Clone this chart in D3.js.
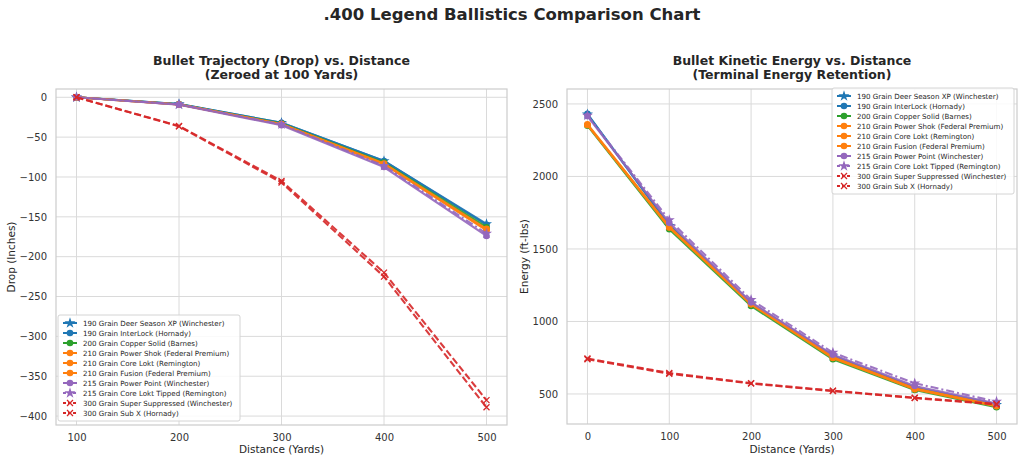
<!DOCTYPE html>
<html>
<head>
<meta charset="utf-8">
<script src="https://cdn.jsdelivr.net/npm/d3@7"></script>
<style>
  body { margin: 0; background: #fff; }
  svg { display: block; font-family: "DejaVu Sans", sans-serif; }
</style>
</head>
<body>
<div id="chart"></div>
<script>
// load names, in legend order
var loadNames = [
  "190 Grain Deer Season XP (Winchester)",
  "190 Grain InterLock (Hornady)",
  "200 Grain Copper Solid (Barnes)",
  "210 Grain Power Shok (Federal Premium)",
  "210 Grain Core Lokt (Remington)",
  "210 Grain Fusion (Federal Premium)",
  "215 Grain Power Point (Winchester)",
  "215 Grain Core Lokt Tipped (Remington)",
  "300 Grain Super Suppressed (Winchester)",
  "300 Grain Sub X (Hornady)"
];

// distances
var dropDistances = [100, 200, 300, 400, 500];
var energyDistances = [0, 100, 200, 300, 400, 500];

// drop (inches), zeroed at 100 yards
var drop190DeerSeason = [0, -8.5, -32, -80, -159];
var drop190InterLock = [0, -8.5, -32, -80, -160];
var drop200CopperSolid = [0, -8.8, -33, -82, -163];
var drop210PowerShok = [0, -9, -34, -84, -167];
var drop210CoreLokt = [0, -9, -34, -84, -166];
var drop210Fusion = [0, -9, -33.5, -83, -165];
var drop215PowerPoint = [0, -9.2, -35, -87.5, -174];
var drop215CoreLoktTipped = [0, -9, -34, -86, -171];
var drop300SuperSuppressed = [0, -36, -105, -220, -380];
var drop300SubX = [0, -36.5, -107, -225, -389];

// energy (ft-lbs)
var energy190DeerSeason = [2428, 1660, 1125, 760, 540, 425];
var energy190InterLock = [2432, 1665, 1130, 765, 545, 430];
var energy200CopperSolid = [2350, 1636, 1107, 739, 528, 408];
var energy210PowerShok = [2355, 1650, 1120, 750, 535, 418];
var energy210CoreLokt = [2355, 1648, 1118, 748, 533, 416];
var energy210Fusion = [2360, 1655, 1125, 755, 540, 422];
var energy215PowerPoint = [2416, 1680, 1132, 770, 555, 435];
var energy215CoreLoktTipped = [2420, 1700, 1150, 785, 574, 447];
var energy300SuperSuppressed = [745, 645, 575, 523, 474, 431];
var energy300SubX = [740, 640, 572, 520, 472, 428];

// tick labels
var dropTicks = [0, -50, -100, -150, -200, -250, -300, -350, -400];
var energyTicks = [500, 1000, 1500, 2000, 2500];

var dropSeries = [drop190DeerSeason, drop190InterLock, drop200CopperSolid, drop210PowerShok,
  drop210CoreLokt, drop210Fusion, drop215PowerPoint, drop215CoreLoktTipped,
  drop300SuperSuppressed, drop300SubX];
var energySeries = [energy190DeerSeason, energy190InterLock, energy200CopperSolid, energy210PowerShok,
  energy210CoreLokt, energy210Fusion, energy215PowerPoint, energy215CoreLoktTipped,
  energy300SuperSuppressed, energy300SubX];

// styles per load
var colors = ["#1f77b4", "#1f77b4", "#2ca02c", "#ff7f0e", "#ff7f0e", "#ff7f0e", "#9467bd", "#9467bd", "#d62728", "#d62728"];
var dashes = [null, null, null, null, null, null, null, "8,3,2,3", "7,3", "7,3"];
var markers = ["star", "circle", "circle", "circle", "circle", "circle", "circle", "star", "x", "x"];

var width = 1024, height = 462;

var svg = d3.select("#chart").append("svg")
  .attr("width", width)
  .attr("height", height);

svg.append("text")
  .attr("x", 512).attr("y", 20)
  .attr("text-anchor", "middle")
  .attr("font-size", "16.5px")
  .attr("font-weight", "bold")
  .attr("fill", "#262626")
  .text(".400 Legend Ballistics Comparison Chart");

function drawMarker(g, type, color, cx, cy) {
  if (type == "circle") {
    g.append("circle").attr("cx", cx).attr("cy", cy).attr("r", 3.3).attr("fill", color);
  } else if (type == "star") {
    g.append("path")
      .attr("d", d3.symbol().type(d3.symbolStar).size(38)())
      .attr("transform", "translate(" + cx + "," + cy + ")")
      .attr("fill", color);
  } else {
    g.append("path")
      .attr("d", "M-3,-3L3,3M-3,3L3,-3")
      .attr("transform", "translate(" + cx + "," + cy + ")")
      .attr("stroke", color).attr("stroke-width", 1.3).attr("fill", "none");
  }
}

function drawPanel(p) {
  var g = svg.append("g");

  var x = d3.scaleLinear().domain(p.xDomain).range([p.left, p.right]);
  var y = d3.scaleLinear().domain(p.yDomain).range([p.bottom, p.top]);

  // grid
  g.selectAll(".vgrid").data(p.xs).enter().append("line")
    .attr("x1", function(d) { return x(d); }).attr("x2", function(d) { return x(d); })
    .attr("y1", p.top).attr("y2", p.bottom)
    .attr("stroke", "#dadada").attr("stroke-width", 1);
  g.selectAll(".hgrid").data(p.yTicks).enter().append("line")
    .attr("x1", p.left).attr("x2", p.right)
    .attr("y1", function(d) { return y(d); }).attr("y2", function(d) { return y(d); })
    .attr("stroke", "#dadada").attr("stroke-width", 1);

  // frame
  g.append("rect")
    .attr("x", p.left).attr("y", p.top)
    .attr("width", p.right - p.left).attr("height", p.bottom - p.top)
    .attr("fill", "none").attr("stroke", "#cccccc").attr("stroke-width", 1.2);

  // axes (labels only, no tick marks)
  var xAxis = g.append("g").attr("transform", "translate(0," + p.bottom + ")")
    .call(d3.axisBottom(x).tickValues(p.xs).tickSize(0).tickPadding(9).tickFormat(d3.format("d")));
  var yAxis = g.append("g").attr("transform", "translate(" + p.left + ",0)")
    .call(d3.axisLeft(y).tickValues(p.yTicks).tickSize(0).tickPadding(9)
      .tickFormat(function(d) { return d < 0 ? "\u2212" + Math.abs(d) : d; }));
  [xAxis, yAxis].forEach(function(a) {
    a.select(".domain").remove();
    a.selectAll("text").attr("font-size", "10px").attr("fill", "#333333").attr("font-family", "DejaVu Sans, sans-serif");
  });

  // lines
  var line = d3.line()
    .x(function(d) { return x(d[0]); })
    .y(function(d) { return y(d[1]); });

  p.series.forEach(function(vals, i) {
    var pts = vals.map(function(v, j) { return [p.xs[j], v]; });
    g.append("path")
      .datum(pts)
      .attr("d", line)
      .attr("fill", "none")
      .attr("stroke", colors[i])
      .attr("stroke-width", 2.1)
      .attr("stroke-dasharray", dashes[i])
      .attr("opacity", 0.9);
    pts.forEach(function(pt) {
      drawMarker(g, markers[i], colors[i], x(pt[0]), y(pt[1]));
    });
  });

  // titles
  var cx = (p.left + p.right) / 2;
  p.title.forEach(function(t, i) {
    svg.append("text")
      .attr("x", cx).attr("y", 65 + i * 14)
      .attr("text-anchor", "middle")
      .attr("font-size", "12.5px").attr("font-weight", "bold")
      .attr("fill", "#262626")
      .text(t);
  });
  svg.append("text")
    .attr("x", cx).attr("y", 453)
    .attr("text-anchor", "middle")
    .attr("font-size", "10.5px").attr("fill", "#262626")
    .text(p.xLabel);
  svg.append("text")
    .attr("transform", "translate(" + p.yLabelX + "," + ((p.top + p.bottom) / 2) + ") rotate(-90)")
    .attr("text-anchor", "middle")
    .attr("font-size", "10.5px").attr("fill", "#262626")
    .text(p.yLabel);

  // legend
  var lg = svg.append("g").attr("transform", "translate(" + p.legendX + "," + p.legendY + ")");
  lg.append("rect")
    .attr("x", 0).attr("y", 0).attr("width", p.legendW).attr("height", 106)
    .attr("rx", 2).attr("fill", "#ffffff").attr("fill-opacity", 0.85)
    .attr("stroke", "#d4d4d4").attr("stroke-width", 1);
  loadNames.forEach(function(name, i) {
    var ry = 8 + i * 10;
    lg.append("line")
      .attr("x1", 5).attr("x2", 19).attr("y1", ry).attr("y2", ry)
      .attr("stroke", colors[i]).attr("stroke-width", 2)
      .attr("stroke-dasharray", dashes[i] ? "3,2" : null);
    drawMarker(lg, markers[i], colors[i], 12, ry);
    lg.append("text")
      .attr("x", 25).attr("y", ry + 2.6)
      .attr("font-size", "7.1px").attr("fill", "#262626")
      .text(name);
  });
}

drawPanel({
  left: 56, right: 507, top: 89, bottom: 425,
  xDomain: [80, 520], yDomain: [-411.2, 10.4],
  xs: dropDistances, yTicks: dropTicks, series: dropSeries,
  title: ["Bullet Trajectory (Drop) vs. Distance", "(Zeroed at 100 Yards)"],
  xLabel: "Distance (Yards)", yLabel: "Drop (Inches)", yLabelX: 15,
  legendX: 58, legendY: 315, legendW: 182
});

drawPanel({
  left: 567, right: 1017, top: 89, bottom: 424,
  xDomain: [-25, 525], yDomain: [293, 2603],
  xs: energyDistances, yTicks: energyTicks, series: energySeries,
  title: ["Bullet Kinetic Energy vs. Distance", "(Terminal Energy Retention)"],
  xLabel: "Distance (Yards)", yLabel: "Energy (ft-lbs)", yLabelX: 528,
  legendX: 832, legendY: 88, legendW: 182
});
</script>
</body>
</html>
